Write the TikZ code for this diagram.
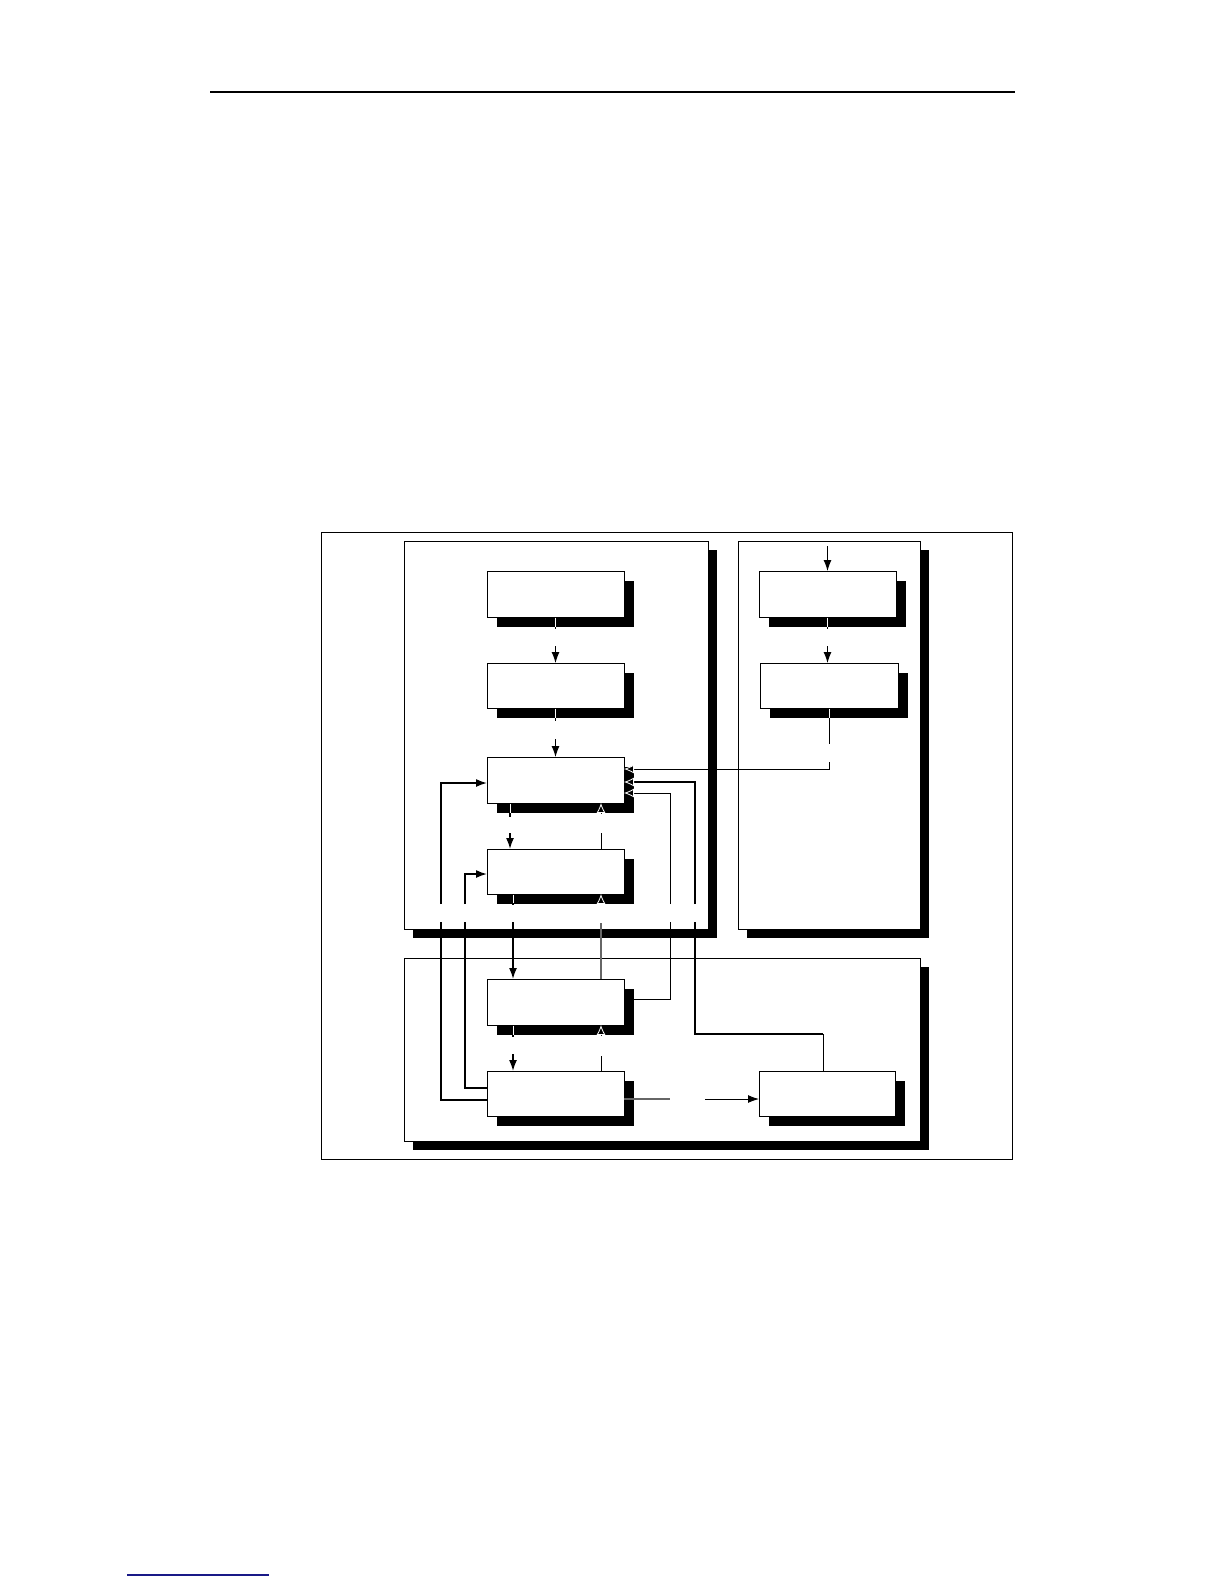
\documentclass[tikz,border=0pt]{standalone}
\usetikzlibrary{arrows.meta,shadows,calc}
\definecolor{navyline}{RGB}{25,25,135}
\begin{document}
\begin{tikzpicture}[x=1pt,y=-1pt,
  frame/.style={draw, line width=1pt, fill=white, inner sep=0pt, outer sep=0pt, anchor=north west},
  shad/.style={general shadow={fill=black, shadow xshift=#1, shadow yshift=-#1}},
  blk/.style={frame, shad=10pt, minimum width=137pt, minimum height=46pt},
  cont/.style={frame, shad=9pt},
  con/.style={line width=1pt},
  thk/.style={line width=1.6pt},
  grey/.style={line width=1.3pt, draw=black!60},
  ar/.style={-{Latex[length=11pt,width=8pt]}},
  wtip/.style={-{Latex[length=10pt,width=9pt,color=white,fill=black,line width=0.8pt]}},
  wseg/.style={draw=white, line width=1pt},
]
\useasboundingbox (0,0) rectangle (1224,1584);
% page rules
\coordinate (ruleL) at (210,92);
\coordinate (ruleR) at (1015,92);
\draw[line width=2pt] (ruleL) -- (ruleR);
\coordinate (footL) at (127,1575);
\coordinate (footR) at (269,1575);
\draw[line width=1.2pt, navyline] (footL) -- (footR);

% outer frame
\node[frame, fill=none, minimum width=691pt, minimum height=627pt] (outer) at (321,532) {};

% containers
\node[cont, minimum width=304pt, minimum height=388pt] (lc) at (404,541) {};
\node[cont, minimum width=182pt, minimum height=388pt] (rc) at (738,541) {};
\node[cont, minimum width=516pt, minimum height=183pt] (bc) at (404,958) {};

% boxes
\node[blk] (b1) at (487,571) {};
\node[blk, minimum height=45pt] (b2) at (487,663) {};
\node[blk] (b3) at (487,757) {};
\node[blk, minimum height=45pt] (b4) at (487,849) {};
\node[blk] (b5) at (487,979) {};
\node[blk, minimum height=45pt] (b6) at (487,1071) {};
\node[blk] (r1) at (759,571) {};
\node[blk, minimum width=138pt, minimum height=45pt] (r2) at (760,663) {};
\node[blk, minimum width=136pt, minimum height=45pt] (b7) at (759,1071) {};

% b1 -> b2
\draw[con] (b1.south) -- ++(0,12);
\draw[wseg] ($(b1.south)+(0,0.5)$) -- ++(0,9.5);
\draw[con,ar] ($(b2.north)+(0,-17)$) -- (b2.north);
% b2 -> b3
\draw[con] (b2.south) -- ++(0,13);
\draw[wseg] ($(b2.south)+(0,0.5)$) -- ++(0,9.5);
\draw[con,ar] ($(b3.north)+(0,-18)$) -- (b3.north);

% into r1
\draw[con,ar] ($(r1.north)+(0,-25)$) -- (r1.north);
% r1 -> r2
\draw[con] (r1.south) -- ++(0,12);
\draw[wseg] ($(r1.south)+(0,0.5)$) -- ++(0,9.5);
\draw[con,ar] ($(r1.south)+(0,29)$) -- ($(r1.south)+(0,46)$);
% r2 -> b3
\draw[con] (r2.south) -- ++(0,36);
\draw[wseg] ($(r2.south)+(0,0.5)$) -- ++(0,9.5);
\coordinate (k1) at ($(r2.south)+(0,54)$);
\draw[con,wtip] (k1) |- ($(b3.east)+(0,-11)$);

% b3 -> b4
\draw[thk] ($(b3.south west)+(23,0)$) -- ++(0,14);
\draw[wseg] ($(b3.south west)+(23,0.5)$) -- ++(0,9.5);
\draw[thk,ar] ($(b4.north west)+(23,-16)$) -- ($(b4.north west)+(23,0)$);
% b4 -> b3 (up)
\draw[con] ($(b4.north west)+(114,0)$) -- ++(0,-16);
\draw[con,wtip] ($(b3.south west)+(114,10)$) -- ($(b3.south west)+(114,0)$);

% b4 -> b5
\draw[thk] ($(b4.south west)+(26,0)$) -- ++(0,11);
\draw[wseg] ($(b4.south west)+(26,0.5)$) -- ++(0,8.5);
\draw[thk,ar] ($(b5.north west)+(26,-57)$) -- ($(b5.north west)+(26,0)$);
% b5 -> b4 (up)
\draw[grey] ($(b5.north west)+(114,0)$) -- ++(0,-56);
\draw[con,wtip] ($(b4.south west)+(114,9)$) -- ($(b4.south west)+(114,0)$);

% b5 -> b6
\draw[thk] ($(b5.south west)+(26,0)$) -- ++(0,12);
\draw[wseg] ($(b5.south west)+(26,0.5)$) -- ++(0,9.5);
\draw[thk,ar] ($(b6.north west)+(26,-17)$) -- ($(b6.north west)+(26,0)$);
% b6 -> b5 (up)
\draw[con] ($(b6.north west)+(114,0)$) -- ++(0,-15);
\draw[con,wtip] ($(b5.south west)+(114,10)$) -- ($(b5.south west)+(114,0)$);

% feedback b6 -> b3 (x=441)
\coordinate (f1) at (441,922);
\coordinate (f2) at (441,904);
\draw[thk] ($(b6.south west)+(0,-16)$) -| (f1);
\draw[thk,ar] (f2) |- ($(b3.west)+(0,3)$);
% feedback b6 -> b4 (x=465)
\coordinate (g1) at (465,922);
\coordinate (g2) at (465,904);
\draw[thk] ($(b6.south west)+(0,-28)$) -| (g1);
\draw[thk,ar] (g2) |- ($(b4.west)+(0,2.5)$);

% b5 -> b3 (x=670)
\coordinate (h1) at (670,922);
\coordinate (h2) at (670,904);
\draw[con] ($(b5.east)+(0,-3)$) -| (h1);
\draw[con,wtip] (h2) |- ($(b3.east)+(0,13)$);

% b7 -> b3 (x=695)
\coordinate (j1) at (695,922);
\coordinate (j2) at (695,904);
\coordinate (j0) at ($(b7.north west)+(64,-37)$);
\draw[con] ($(b7.north west)+(64,0)$) -- (j0);
\draw[thk] (j0) -| (j1);
\draw[thk,wtip] (j2) |- ($(b3.east)+(0,2)$);

% b6 -> b7
\draw[grey] ($(b6.east)+(0,5.5)$) -- ++(46,0);
\draw[con,ar] ($(b7.west)+(-54,5.5)$) -- ($(b7.west)+(0,5.5)$);
\end{tikzpicture}
\end{document}
